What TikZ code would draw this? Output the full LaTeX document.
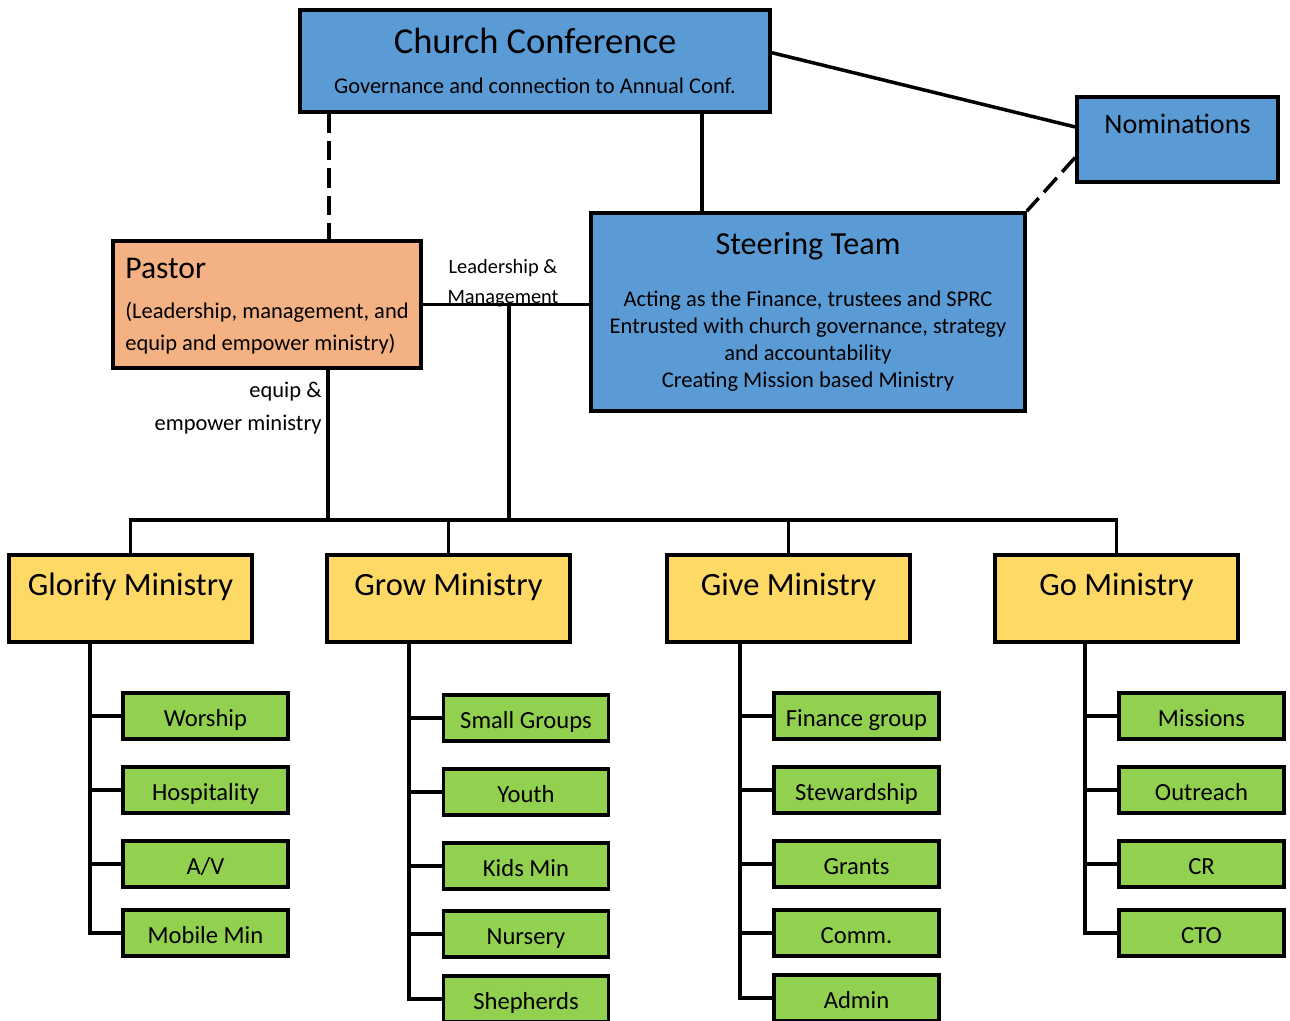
\documentclass[tikz,border=0pt]{standalone}
\usepackage{fontspec}
\setmainfont{Carlito}
\usepackage{xcolor}
\usepackage{tikz}
\definecolor{confblue}{HTML}{5B9BD5}
\definecolor{pastororange}{HTML}{F4B183}
\definecolor{minyellow}{HTML}{FFD966}
\definecolor{teamgreen}{HTML}{92D050}

\begin{document}
\begin{tikzpicture}[x=0.02cm, y=-0.02cm,
        box/.style={draw, rectangle, line width=2.2pt, inner sep=0pt},
        blue box/.style={box, fill=confblue},
        ministry/.style={box, fill=minyellow, minimum width=4.86cm, minimum height=1.74cm, font=\fontsize{18.5}{22}\selectfont, text depth=0.58cm},
        team/.style={box, fill=teamgreen, minimum width=3.3cm, minimum height=0.92cm, font=\fontsize{14}{17}\selectfont, text height=13pt, text depth=1pt},
        conn/.style={line width=2pt},
        dashconn/.style={conn, dash pattern=on 11pt off 4.5pt}]
        \useasboundingbox (0,0) rectangle (1290,1020);

        \node[blue box, minimum width=9.4cm, minimum height=2.04cm, align=center, font=\fontsize{12.8}{15}\selectfont] (conf) at (535,61) {\fontsize{20.8}{24}\selectfont Church Conference\\[8.2pt]Governance and connection to Annual Conf.};
        \node[blue box, minimum width=4.02cm, minimum height=1.7cm, font=\fontsize{16}{19}\selectfont, text depth=0.62cm] (nom) at (1177.5,139.5) {Nominations};
        \node[blue box, minimum width=8.68cm, minimum height=3.96cm, align=center, font=\fontsize{12.8}{15.5}\selectfont] (steer) at (808,312) {\fontsize{18.3}{22}\selectfont Steering Team\\[14pt]Acting as the Finance, trustees and SPRC\\Entrusted with church governance, strategy\\and accountability\\Creating Mission based Ministry};
        \node[box, fill=pastororange, minimum width=6.16cm, minimum height=2.54cm, align=left, font=\fontsize{12.8}{18.5}\selectfont, text depth=-1pt] (pastor) at (267,304.5) {\fontsize{18}{22}\selectfont Pastor\\[4pt](Leadership, management, and\\equip and empower ministry)};

        \node[align=center, font=\fontsize{11.6}{17}\selectfont, inner sep=0pt] (lmlabel) at (503,283) {Leadership \&\\Management};
        \node[align=right, anchor=east, font=\fontsize{12.8}{18.5}\selectfont, inner sep=0pt] (eqlabel) at (322,408) {equip \&\\empower ministry};

        \node[ministry] (glorify) at (130.5,598.5) {Glorify Ministry};
        \node[ministry] (grow) at (448.5,598.5) {Grow Ministry};
        \node[ministry] (give) at (788.5,598.5) {Give Ministry};
        \node[ministry] (go) at (1116.5,598.5) {Go Ministry};

        \node[team] (worship) at (205.5,716) {Worship};
        \node[team] (hospitality) at (205.5,790) {Hospitality};
        \node[team] (av) at (205.5,864) {A/V};
        \node[team] (mobile) at (205.5,933) {Mobile Min};

        \node[team] (smallgroups) at (526,718) {Small Groups};
        \node[team] (youth) at (526,792) {Youth};
        \node[team] (kids) at (526,866) {Kids Min};
        \node[team] (nursery) at (526,934) {Nursery};
        \node[team] (shepherds) at (526,999) {Shepherds};

        \node[team] (finance) at (856.5,716) {Finance group};
        \node[team] (stewardship) at (856.5,790) {Stewardship};
        \node[team] (grants) at (856.5,864) {Grants};
        \node[team] (comm) at (856.5,933) {Comm.};
        \node[team] (admin) at (856.5,998) {Admin};

        \node[team] (missions) at (1201.5,716) {Missions};
        \node[team] (outreach) at (1201.5,790) {Outreach};
        \node[team] (cr) at (1201.5,864) {CR};
        \node[team] (cto) at (1201.5,933) {CTO};

        \coordinate (bus) at (0,520);

        \draw[conn] (conf.2) -- (nom.173);
        \draw[dashconn] (nom.190) -- (steer.north east);
        \draw[conn] (conf.south -| 702,0) -- (steer.north -| 702,0);
        \draw[dashconn] (conf.south -| 329,0) -- (pastor.north -| 329,0);
        \draw[conn] (pastor.east) -- (pastor.east -| steer.west);
        \draw[conn] (pastor.east -| 509,0) -- (509,0 |- bus);
        \draw[conn] (pastor.south -| 328,0) -- (328,0 |- bus);

        \draw[conn] (glorify.north) -- (glorify.north |- bus) -- (go.north |- bus) -- (go.north);
        \draw[conn] (grow.north) -- (grow.north |- bus);
        \draw[conn] (give.north) -- (give.north |- bus);

        \draw[conn] (glorify.south -| 90,0) |- (mobile.west);
        \draw[conn] (worship.west -| 90,0) -- (worship.west);
        \draw[conn] (hospitality.west -| 90,0) -- (hospitality.west);
        \draw[conn] (av.west -| 90,0) -- (av.west);

        \draw[conn] (grow.south -| 409,0) |- (shepherds.west);
        \draw[conn] (smallgroups.west -| 409,0) -- (smallgroups.west);
        \draw[conn] (youth.west -| 409,0) -- (youth.west);
        \draw[conn] (kids.west -| 409,0) -- (kids.west);
        \draw[conn] (nursery.west -| 409,0) -- (nursery.west);

        \draw[conn] (give.south -| 740,0) |- (admin.west);
        \draw[conn] (finance.west -| 740,0) -- (finance.west);
        \draw[conn] (stewardship.west -| 740,0) -- (stewardship.west);
        \draw[conn] (grants.west -| 740,0) -- (grants.west);
        \draw[conn] (comm.west -| 740,0) -- (comm.west);

        \draw[conn] (go.south -| 1085,0) |- (cto.west);
        \draw[conn] (missions.west -| 1085,0) -- (missions.west);
        \draw[conn] (outreach.west -| 1085,0) -- (outreach.west);
        \draw[conn] (cr.west -| 1085,0) -- (cr.west);
    \end{tikzpicture}
\end{document}
